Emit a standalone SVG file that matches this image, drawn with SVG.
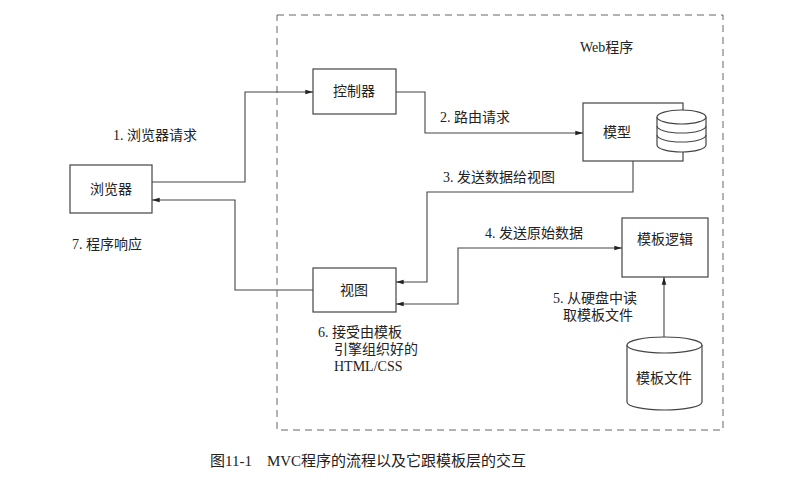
<svg xmlns="http://www.w3.org/2000/svg" width="792" height="490" viewBox="0 0 792 490">
<defs>
<style>
text{font-family:"Liberation Serif","Noto Sans CJK SC",serif;font-size:14px;fill:#222}
.box{fill:#fff;stroke:#444;stroke-width:1.2}
.c{fill:none;stroke:#444;stroke-width:1.1}
</style>
<marker id="a" viewBox="0 0 10 10" refX="10" refY="5" markerWidth="7" markerHeight="7" orient="auto-start-reverse"><path d="M0,2 L10,5 L0,8 z" fill="#222"/></marker>
</defs>
<rect width="792" height="490" fill="#fff"/>
<rect x="277" y="15" width="446" height="415" fill="none" stroke="#666" stroke-dasharray="7,5" stroke-width="1"/>
<text x="580" y="52">Web程序</text>
<g id="browser"><rect class="box" x="70" y="165" width="82" height="48"/><text x="111" y="194" text-anchor="middle">浏览器</text></g>
<g id="controller"><rect class="box" x="313" y="69" width="83" height="45"/><text x="354" y="96" text-anchor="middle">控制器</text></g>
<g id="model"><rect class="box" x="583" y="103" width="100" height="58"/><text x="617" y="137" text-anchor="middle">模型</text>
<path class="box" d="M657,117 v28 a24.5,7 0 0 0 49,0 v-28"/>
<path class="c" d="M657,126 a24.5,7 0 0 0 49,0 M657,135 a24.5,7 0 0 0 49,0"/>
<ellipse class="box" cx="681.5" cy="117" rx="24.5" ry="7"/></g>
<g id="view"><rect class="box" x="313" y="268" width="83" height="44"/><text x="354" y="295" text-anchor="middle">视图</text></g>
<g id="tlogic"><rect class="box" x="622" y="218" width="86" height="59"/><text x="665" y="244" text-anchor="middle">模板逻辑</text></g>
<g id="tfiles"><path class="box" d="M627,345 v57 a37.5,8 0 0 0 75,0 v-57"/><ellipse class="box" cx="664.5" cy="345" rx="37.5" ry="8"/><text x="664" y="383" text-anchor="middle">模板文件</text></g>
<g id="connectors">
<path class="c" marker-end="url(#a)" d="M152,182 H245 V92 H313"/>
<path class="c" marker-end="url(#a)" d="M396,92 H425 V133 H583"/>
<path class="c" marker-end="url(#a)" d="M633,161 V192 H427 V282 H396"/>
<path class="c" marker-start="url(#a)" marker-end="url(#a)" d="M396,304 H458 V248 H622"/>
<path class="c" marker-end="url(#a)" d="M664,337 V277"/>
<path class="c" marker-end="url(#a)" d="M313,290 H235 V200 H152"/>
</g>
<text x="113" y="140">1. 浏览器请求</text>
<text x="440" y="122">2. 路由请求</text>
<text x="443" y="182">3. 发送数据给视图</text>
<text x="485" y="238">4. 发送原始数据</text>
<text x="553" y="303">5. 从硬盘中读</text>
<text x="563" y="320">取模板文件</text>
<text x="318" y="337">6. 接受由模板</text>
<text x="334" y="354">引擎组织好的</text>
<text x="334" y="371">HTML/CSS</text>
<text x="72" y="249">7. 程序响应</text>
<text x="210" y="466" style="font-size:15px">图11-1　MVC程序的流程以及它跟模板层的交互</text>
</svg>
